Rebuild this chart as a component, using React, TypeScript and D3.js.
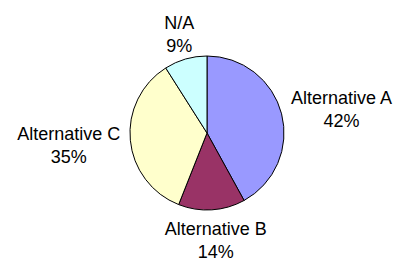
import React from "react";
import * as d3 from "d3";

const categories = ["Alternative A", "Alternative B", "Alternative C", "N/A"];
const values = [42, 14, 35, 9];
const percentLabels = ["42%", "14%", "35%", "9%"];
const colors = ["#9999FF", "#993366", "#FFFFCC", "#CCFFFF"];

const W = 394;
const H = 262;
const cx = 207;
const cy = 133;
const r = 77;
const fontSize = 18;
const lineH = 23.5;
const stretch = 1.06;

export default function App() {
  const pie = d3.pie<number>().sort(null).value((d) => d)(values);
  const arc = d3.arc<d3.PieArcDatum<number>>().innerRadius(0).outerRadius(r);

  const labels = pie.map((p, i) => {
    const mid = (p.startAngle + p.endAngle) / 2;
    const sx = Math.sin(mid);
    const sy = -Math.cos(mid);
    const R = r + 11;
    const px = cx + R * sx;
    const py = cy + R * sy;
    const w = Math.max(categories[i].length, percentLabels[i].length) * fontSize * 0.435;
    const h = 34;
    const bx = px + (sx * w) / 2;
    const by = py + (sy * h) / 2;
    return { bx, by, i };
  });

  return (
    <svg width={W} height={H} style={{ position: "absolute", left: 0, top: 0 }}>
      <rect width={W} height={H} fill="#ffffff" />
      <g transform={`translate(${cx},${cy})`}>
        {pie.map((p, i) => (
          <path key={i} d={arc(p) || ""} fill={colors[i]} stroke="#000" strokeWidth={1} />
        ))}
      </g>
      {labels.map(({ bx, by, i }) => (
        <g key={i} transform={`translate(${bx},${by}) scale(1,${stretch})`}>
          <text
            x={0}
            y={-3}
            textAnchor="middle"
            fontFamily="Liberation Sans, Arial, sans-serif"
            fontSize={fontSize}
            fill="#000"
          >
            {categories[i]}
          </text>
          <text
            x={0}
            y={-3 + lineH / stretch}
            textAnchor="middle"
            fontFamily="Liberation Sans, Arial, sans-serif"
            fontSize={fontSize}
            fill="#000"
          >
            {percentLabels[i]}
          </text>
        </g>
      ))}
    </svg>
  );
}
